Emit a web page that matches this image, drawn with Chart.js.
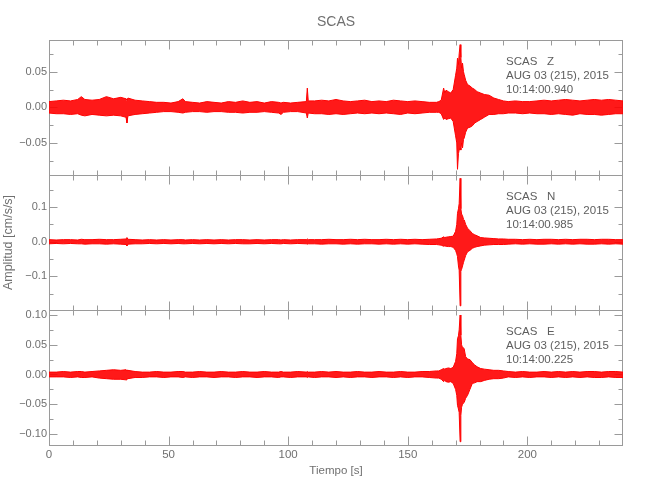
<!DOCTYPE html>
<html>
<head>
<meta charset="utf-8">
<script src="https://cdn.jsdelivr.net/npm/chart.js@4.4.0/dist/chart.umd.min.js"></script>
<style>
  html, body { margin: 0; padding: 0; background: #fff; }
  #wrap { position: relative; width: 650px; height: 500px; }
  #wrap canvas { position: absolute; left: 0; top: 0; }
</style>
</head>
<body>
<div id="wrap">
  <canvas id="chartZ" width="650" height="500"></canvas>
  <canvas id="chartN" width="650" height="500"></canvas>
  <canvas id="chartE" width="650" height="500"></canvas>
</div>
<script>
// sample times [s] : noise, event, coda
const times = [
  0, 3, 6, 9, 12, 13.5, 15, 18, 21, 24, 27, 30, 32.2, 32.6, 33, 36, 39, 42, 45, 48,
  51, 54, 56, 57, 60, 63, 66, 69, 72, 75, 78, 81, 84, 87, 90, 93, 96, 97, 98, 101,
  104, 107.6, 108, 108.4, 111, 114, 117, 120, 123, 126, 129, 132, 135, 138, 141, 144, 147, 150, 153, 156,
  159, 162,
  163, 164, 165, 165.5, 166, 167, 168, 169, 170, 170.5, 170.8, 171.2, 171.5, 171.9, 172.2, 172.5,
  172.9, 173.3, 173.6, 174.2, 175, 176, 177, 178, 179, 180.5, 182, 184, 186, 188, 190,
  192, 195, 198, 201, 204, 207, 210, 213, 216, 219, 222, 225, 228, 231, 234, 237, 240
];

// envelope (max / min) of each component, cm/s/s
const zUpper = [
  0.008, 0.009, 0.010, 0.009, 0.011, 0.015, 0.011, 0.010, 0.011, 0.015,
  0.012, 0.014, 0.012, 0.010, 0.013, 0.010, 0.009, 0.008, 0.007, 0.007,
  0.006, 0.008, 0.012, 0.008, 0.007, 0.006, 0.008, 0.007, 0.006, 0.008,
  0.007, 0.009, 0.007, 0.008, 0.006, 0.008, 0.007, 0.006, 0.007, 0.006,
  0.007, 0.008, 0.027, 0.009, 0.009, 0.010, 0.009, 0.011, 0.009, 0.008,
  0.009, 0.010, 0.008, 0.009, 0.008, 0.010, 0.009, 0.008, 0.009, 0.008,
  0.007, 0.007,
  0.008, 0.010, 0.027, 0.020, 0.024, 0.022, 0.020, 0.025, 0.045, 0.055,
  0.069, 0.060, 0.075, 0.088, 0.070, 0.055, 0.062, 0.050, 0.046, 0.038,
  0.032, 0.030, 0.027, 0.025, 0.022, 0.020, 0.018, 0.017, 0.013, 0.011,
  0.009,
  0.008, 0.009, 0.008, 0.008, 0.009, 0.010, 0.009, 0.010, 0.011, 0.010, 0.009, 0.010, 0.011, 0.010, 0.011, 0.010, 0.009
];
const zLower = [
  -0.008, -0.009, -0.009, -0.010, -0.009, -0.011, -0.012, -0.010, -0.011, -0.012,
  -0.011, -0.012, -0.014, -0.022, -0.012, -0.010, -0.009, -0.008, -0.007, -0.006,
  -0.006, -0.007, -0.008, -0.007, -0.006, -0.006, -0.007, -0.006, -0.006, -0.007,
  -0.007, -0.008, -0.007, -0.007, -0.006, -0.007, -0.008, -0.010, -0.007, -0.006,
  -0.006, -0.008, -0.015, -0.008, -0.009, -0.009, -0.010, -0.009, -0.010, -0.009,
  -0.008, -0.009, -0.008, -0.009, -0.008, -0.009, -0.010, -0.008, -0.009, -0.008,
  -0.007, -0.007,
  -0.007, -0.009, -0.017, -0.015, -0.017, -0.016, -0.015, -0.020, -0.040, -0.050,
  -0.087, -0.065, -0.060, -0.057, -0.060, -0.050, -0.057, -0.045, -0.043, -0.035,
  -0.029, -0.028, -0.026, -0.022, -0.020, -0.017, -0.014, -0.010, -0.010, -0.009,
  -0.009,
  -0.008, -0.008, -0.009, -0.008, -0.009, -0.009, -0.010, -0.009, -0.010, -0.011, -0.009, -0.010, -0.010, -0.011, -0.010, -0.009, -0.009
];
const nUpper = [
  0.006, 0.005, 0.006, 0.006, 0.005, 0.007, 0.006, 0.006, 0.007, 0.006,
  0.006, 0.007, 0.008, 0.012, 0.007, 0.006, 0.005, 0.006, 0.005, 0.006,
  0.005, 0.006, 0.006, 0.005, 0.006, 0.005, 0.006, 0.005, 0.006, 0.005,
  0.006, 0.006, 0.005, 0.006, 0.005, 0.006, 0.006, 0.005, 0.006, 0.005,
  0.006, 0.006, 0.008, 0.006, 0.006, 0.006, 0.007, 0.006, 0.006, 0.007,
  0.006, 0.007, 0.006, 0.006, 0.007, 0.006, 0.007, 0.006, 0.007, 0.006,
  0.007, 0.008,
  0.009, 0.010, 0.014, 0.012, 0.013, 0.014, 0.015, 0.016, 0.030, 0.050,
  0.082, 0.095, 0.110, 0.183, 0.095, 0.080, 0.075, 0.065, 0.063, 0.050,
  0.039, 0.032, 0.024, 0.020, 0.017, 0.012, 0.011, 0.010, 0.009, 0.008,
  0.008,
  0.007, 0.007, 0.006, 0.007, 0.006, 0.007, 0.007, 0.006, 0.007, 0.006, 0.007, 0.007, 0.006, 0.007, 0.007, 0.006, 0.006
];
const nLower = [
  -0.006, -0.005, -0.006, -0.005, -0.006, -0.006, -0.007, -0.006, -0.006, -0.007,
  -0.006, -0.007, -0.008, -0.012, -0.007, -0.006, -0.006, -0.005, -0.006, -0.005,
  -0.006, -0.005, -0.006, -0.006, -0.005, -0.006, -0.005, -0.006, -0.005, -0.006,
  -0.005, -0.006, -0.006, -0.005, -0.006, -0.005, -0.006, -0.006, -0.005, -0.006,
  -0.005, -0.006, -0.007, -0.006, -0.006, -0.007, -0.006, -0.006, -0.007, -0.006,
  -0.007, -0.006, -0.006, -0.007, -0.006, -0.007, -0.006, -0.007, -0.006, -0.007,
  -0.008, -0.008,
  -0.009, -0.010, -0.013, -0.012, -0.013, -0.014, -0.014, -0.016, -0.025, -0.035,
  -0.043, -0.070, -0.082, -0.185, -0.085, -0.080, -0.070, -0.060, -0.053, -0.040,
  -0.029, -0.025, -0.019, -0.016, -0.014, -0.012, -0.010, -0.009, -0.008, -0.008,
  -0.008,
  -0.007, -0.006, -0.007, -0.006, -0.007, -0.007, -0.006, -0.007, -0.006, -0.007, -0.006, -0.007, -0.007, -0.006, -0.007, -0.006, -0.007
];
const eUpper = [
  0.004, 0.004, 0.005, 0.004, 0.005, 0.005, 0.004, 0.005, 0.006, 0.007,
  0.008, 0.007, 0.008, 0.006, 0.007, 0.005, 0.004, 0.004, 0.005, 0.004,
  0.004, 0.005, 0.005, 0.004, 0.004, 0.005, 0.004, 0.004, 0.005, 0.004,
  0.004, 0.005, 0.004, 0.004, 0.005, 0.004, 0.004, 0.005, 0.004, 0.004,
  0.005, 0.004, 0.005, 0.004, 0.004, 0.005, 0.004, 0.005, 0.004, 0.004,
  0.005, 0.004, 0.004, 0.005, 0.004, 0.004, 0.005, 0.004, 0.004, 0.005,
  0.005, 0.006,
  0.006, 0.008, 0.010, 0.009, 0.010, 0.011, 0.010, 0.012, 0.022, 0.035,
  0.060, 0.065, 0.075, 0.100, 0.066, 0.050, 0.045, 0.045, 0.043, 0.030,
  0.026, 0.025, 0.020, 0.016, 0.013, 0.010, 0.009, 0.008, 0.007, 0.007,
  0.006,
  0.005, 0.004, 0.005, 0.004, 0.004, 0.005, 0.004, 0.005, 0.004, 0.005, 0.004, 0.005, 0.005, 0.004, 0.005, 0.005, 0.004
];
const eLower = [
  -0.004, -0.004, -0.004, -0.005, -0.004, -0.005, -0.005, -0.004, -0.006, -0.007,
  -0.008, -0.008, -0.009, -0.007, -0.007, -0.005, -0.005, -0.004, -0.004, -0.005,
  -0.004, -0.004, -0.005, -0.004, -0.005, -0.004, -0.004, -0.005, -0.004, -0.004,
  -0.005, -0.004, -0.004, -0.005, -0.004, -0.004, -0.005, -0.004, -0.004, -0.005,
  -0.004, -0.004, -0.005, -0.004, -0.005, -0.004, -0.004, -0.005, -0.004, -0.005,
  -0.004, -0.004, -0.005, -0.004, -0.004, -0.005, -0.004, -0.005, -0.004, -0.004,
  -0.005, -0.006,
  -0.006, -0.008, -0.012, -0.010, -0.012, -0.013, -0.012, -0.015, -0.025, -0.035,
  -0.052, -0.058, -0.064, -0.113, -0.069, -0.055, -0.050, -0.048, -0.047, -0.040,
  -0.035, -0.025, -0.015, -0.014, -0.012, -0.012, -0.010, -0.008, -0.007, -0.007,
  -0.006,
  -0.004, -0.005, -0.004, -0.005, -0.004, -0.004, -0.005, -0.004, -0.005, -0.004, -0.005, -0.004, -0.005, -0.005, -0.004, -0.005, -0.005
];

// ticks
const xTicks = [0, 50, 100, 150, 200];
const xMinor = [10, 20, 30, 40, 60, 70, 80, 90, 110, 120, 130, 140, 160, 170, 180, 190, 210, 220, 230];
const zTicks = [-0.05, 0, 0.05];
const zMinor = [-0.075, -0.025, 0.025, 0.075];
const nTicks = [-0.1, 0, 0.1];
const nMinor = [-0.15, -0.05, 0.05, 0.15];
const eTicks = [-0.1, -0.05, 0, 0.05, 0.1];
const eMinor = [-0.075, -0.025, 0.025, 0.075];

const zInfo = ['SCAS   Z', 'AUG 03 (215), 2015', '10:14:00.940'];
const nInfo = ['SCAS   N', 'AUG 03 (215), 2015', '10:14:00.985'];
const eInfo = ['SCAS   E', 'AUG 03 (215), 2015', '10:14:00.225'];

const AXIS_GRAY = '#9a9a9a';
const TEXT_GRAY = '#707070';
const FONT = "'Liberation Sans', Arial, sans-serif";
Chart.defaults.font.family = FONT;
Chart.defaults.color = TEXT_GRAY;

// caja estilo IDL: ticks hacia adentro en los 4 lados + rótulo de estación
const idlBox = {
  id: 'idlBox',
  beforeDatasetsDraw(chart, args, o) {
    const { ctx, chartArea: a, scales: { x, y } } = chart;
    const L = Math.round(a.left) + 0.5, R = Math.round(a.right) - 0.5;
    const T = Math.round(a.top) + 0.5, B = Math.round(a.bottom) + 0.5;
    ctx.save();
    ctx.strokeStyle = AXIS_GRAY;
    ctx.lineWidth = 1;
    ctx.strokeRect(L, T, R - L, B - T);
    const line = (x1, y1, x2, y2) => { ctx.beginPath(); ctx.moveTo(x1, y1); ctx.lineTo(x2, y2); ctx.stroke(); };
    const xt = (vals, len) => vals.forEach(v => {
      const px = Math.round(x.getPixelForValue(v)) + 0.5;
      line(px, T, px, T + len); line(px, B, px, B - len);
    });
    const yt = (vals, len) => vals.forEach(v => {
      const py = Math.round(y.getPixelForValue(v)) + 0.5;
      line(L, py, L + len, py); line(R, py, R - len, py);
    });
    xt(xTicks, 9); xt(xMinor, 5);
    yt(o.major, 8); yt(o.minor, 4);
    ctx.restore();
  },
  afterDatasetsDraw(chart, args, o) {
    const { ctx, chartArea: a } = chart;
    ctx.save();
    ctx.fillStyle = '#5e5e5e';
    ctx.font = '11.5px ' + FONT;
    ctx.textBaseline = 'middle';
    o.info.forEach((t, i) => ctx.fillText(t, a.left + 457, a.top + 22 + i * 14));
    ctx.restore();
  }
};

function makePanel(id, cfg) {
  return new Chart(document.getElementById(id), {
    type: 'line',
    plugins: [idlBox],
    data: {
      datasets: [
        { data: times.map((t, i) => ({ x: t, y: cfg.upper[i] })), borderColor: '#ff0000', borderWidth: 1,
          pointRadius: 0, fill: false, tension: 0, clip: false },
        { data: times.map((t, i) => ({ x: t, y: cfg.lower[i] })), borderColor: '#ff0000', borderWidth: 1,
          pointRadius: 0, fill: '-1', backgroundColor: 'rgba(255,0,0,0.9)', tension: 0, clip: false }
      ]
    },
    options: {
      responsive: false,
      animation: false,
      events: [],
      layout: { padding: { left: 0, right: 27, top: cfg.padTop, bottom: cfg.padBottom } },
      plugins: {
        legend: { display: false },
        tooltip: { enabled: false },
        title: cfg.title || { display: false },
        idlBox: { major: cfg.ticks, minor: cfg.minor, info: cfg.info }
      },
      scales: {
        x: {
          type: 'linear', min: 0, max: 240, display: cfg.showX,
          grid: { display: false, drawTicks: false }, border: { display: false },
          afterBuildTicks: s => { s.ticks = xTicks.map(v => ({ value: v })); },
          afterFit: s => { if (cfg.showX) s.height = 55; },
          ticks: { padding: 3, maxRotation: 0, font: { size: 11.5 }, callback: v => String(v) },
          title: { display: cfg.showX, text: 'Tiempo [s]', font: { size: 11.5 }, padding: { top: 0, bottom: 22 } }
        },
        y: {
          type: 'linear', min: cfg.yMin, max: cfg.yMax,
          grid: { display: false, drawTicks: false }, border: { display: false },
          afterBuildTicks: s => { s.ticks = cfg.ticks.map(v => ({ value: v })); },
          afterFit: s => { s.width = 49; },
          ticks: { padding: 2, font: { size: 11 }, callback: v => v.toFixed(cfg.dec).replace('-', '\u2212') },
          title: { display: !!cfg.yTitle, text: cfg.yTitle || '', font: { size: 12.5 }, padding: { top: 1 } }
        }
      }
    }
  });
}

makePanel('chartZ', {
  upper: zUpper, lower: zLower, ticks: zTicks, minor: zMinor, info: zInfo, dec: 2,
  yMin: -0.095, yMax: 0.0945, padTop: 0, padBottom: 325, showX: false,
  title: { display: true, text: 'SCAS', fullSize: false, color: TEXT_GRAY,
           font: { size: 14, weight: 'normal' }, padding: { top: 14, bottom: 9.2 } }
});
makePanel('chartN', {
  upper: nUpper, lower: nLower, ticks: nTicks, minor: nMinor, info: nInfo, dec: 1,
  yMin: -0.197, yMax: 0.1925, padTop: 175, padBottom: 190, showX: false,
  yTitle: 'Amplitud [cm/s/s]'
});
makePanel('chartE', {
  upper: eUpper, lower: eLower, ticks: eTicks, minor: eMinor, info: eInfo, dec: 2,
  yMin: -0.1185, yMax: 0.1084, padTop: 310, padBottom: 0, showX: true
});
</script>
</body>
</html>
